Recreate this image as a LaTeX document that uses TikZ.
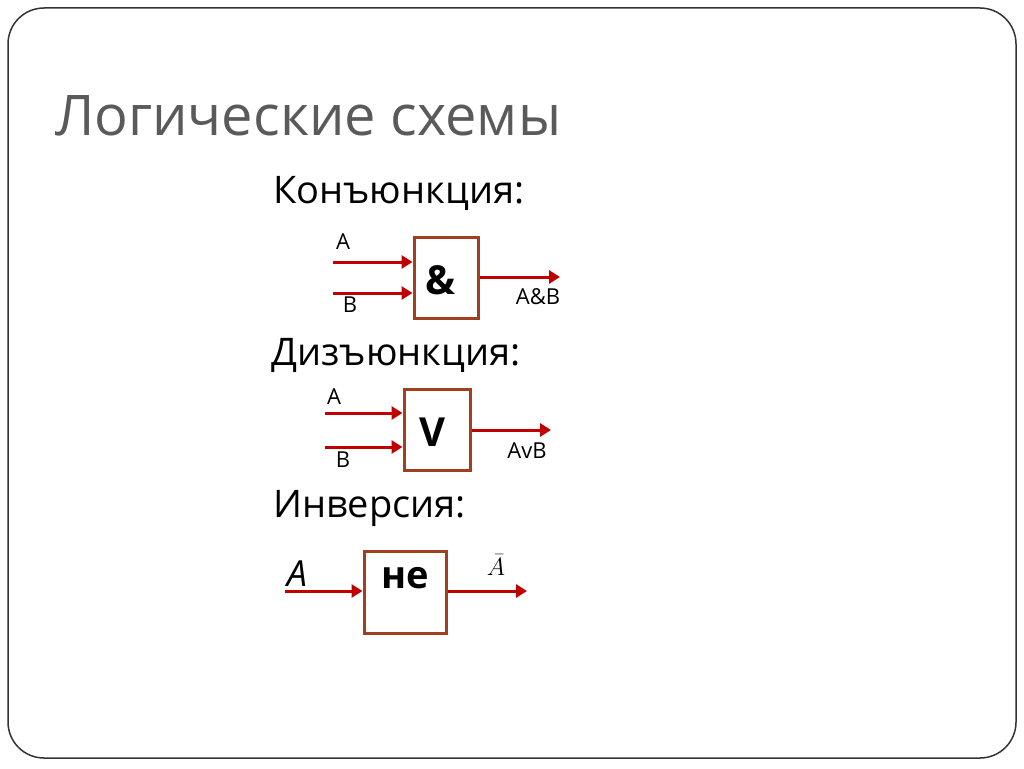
\documentclass[tikz,border=0pt]{standalone}
\usepackage{fontspec}
\setmainfont{Open Sans}
\usetikzlibrary{arrows.meta}
\definecolor{boxc}{RGB}{160,64,30}
\definecolor{arr}{RGB}{192,0,0}
\definecolor{ttl}{RGB}{90,90,90}
\tikzset{
 gate/.style={draw=boxc,line width=3pt,inner sep=0pt},
 wire/.style={arr,line width=3pt,-{Triangle[length=11pt,width=13pt]}},
 lbl/.style={font=\fontsize{22}{24}\selectfont,inner sep=0pt},
 head/.style={font=\fontsize{38}{44}\selectfont,anchor=base west,inner sep=0pt},
}
\begin{document}
\begin{tikzpicture}[x=1pt,y=-1pt]
\useasboundingbox (0,0) rectangle (1024,768);
\draw[line width=1.5pt,draw=black!80,rounded corners=36pt] (8,8) rectangle (1016,758);
\node[anchor=base west,inner sep=0pt,text=ttl,font=\fontsize{56}{62}\selectfont] (title) at (55,135) {Логические схемы};
\node[head] (h1) at (273,203) {Конъюнкция:};
\node[head] (h2) at (271,365) {Дизъюнкция:};
\node[head] (h3) at (273,517) {Инверсия:};
% conj
\node[gate,minimum width=64pt,minimum height=81pt] (g1) at (446,277.5) {};
\node[font=\bfseries\fontsize{40}{42}\selectfont] (t1) at (440,280) {\&};
\coordinate (a1) at (333,262); \coordinate (b1) at (333,293); \coordinate (o1) at (560,277);
\draw[wire] (a1) -- (a1 -| g1.west);
\draw[wire] (b1) -- (b1 -| g1.west);
\draw[wire] (g1.east |- o1) -- (o1);
\node[lbl] (la1) at (343,242) {A};
\node[lbl] (lb1) at (350,305) {B};
\node[lbl] (lo1) at (538,297) {A\&B};
% disj
\node[gate,minimum width=66pt,minimum height=81pt] (g2) at (437,429.5) {};
\node[font=\bfseries\fontsize{40}{42}\selectfont] (t2) at (432,432) {V};
\coordinate (a2) at (325,413); \coordinate (b2) at (325,447); \coordinate (o2) at (551,430);
\draw[wire] (a2) -- (a2 -| g2.west);
\draw[wire] (b2) -- (b2 -| g2.west);
\draw[wire] (g2.east |- o2) -- (o2);
\node[lbl] (la2) at (334,397) {A};
\node[lbl] (lb2) at (343,460) {B};
\node[lbl] (lo2) at (527,451) {AvB};
% inv
\node[gate,minimum width=82pt,minimum height=82pt] (g3) at (405,592) {};
\node[font=\bfseries\fontsize{38}{40}\selectfont] (t3) at (405,578) {не};
\coordinate (a3) at (285,591); \coordinate (o3) at (527,591);
\draw[wire] (a3) -- (a3 -| g3.west);
\draw[wire] (g3.east |- o3) -- (o3);
\node[font=\itshape\fontsize{36}{40}\selectfont,inner sep=0pt] (la3) at (297,574) {A};
\node[inner sep=0pt,font=\fontsize{28}{30}\selectfont] (lo3) at (496,565) {$\bar{A}$};
\end{tikzpicture}
\end{document}
